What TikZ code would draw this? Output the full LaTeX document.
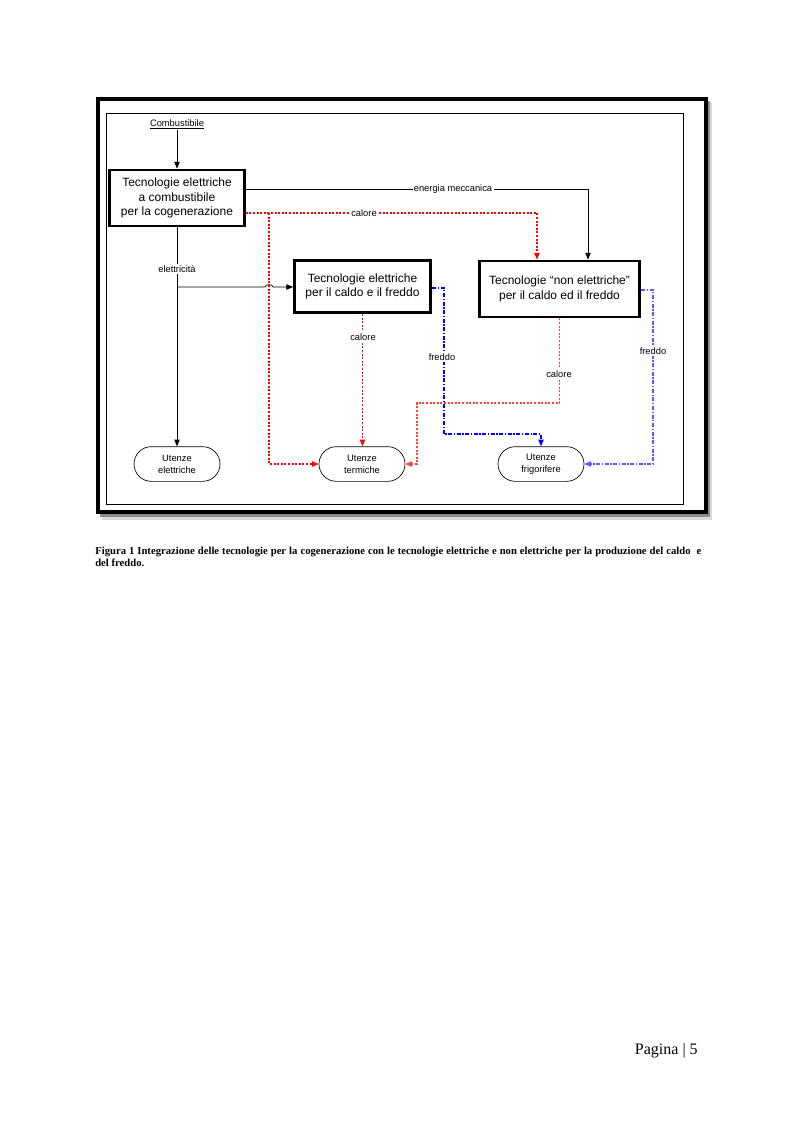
\documentclass[tikz,border=0pt]{standalone}
\usepackage{fontspec}
\setmainfont{Liberation Serif}
\newfontfamily\arialfont{Liberation Sans}
\usetikzlibrary{arrows.meta}

\begin{document}
\begin{tikzpicture}[x=0.75pt,y=-0.75pt,
  techbox/.style={draw,line width=2.2pt,align=center,minimum height=42pt,inner sep=2pt,
    font=\arialfont\fontsize{9}{11}\selectfont},
  userbox/.style={draw,line width=0.5pt,rounded corners=13pt,minimum width=64.5pt,minimum height=26pt,
    align=center,inner sep=1pt,font=\arialfont\fontsize{7}{9}\selectfont},
  flowlabel/.style={fill=white,inner sep=1pt,font=\arialfont\fontsize{7}{8}\selectfont},
  power/.style={-{Triangle[length=5pt,width=4pt]},line width=0.5pt},
  heat/.style={power,color=red,line width=0.8pt,dash pattern=on 1.5pt off 1.2pt},
  cold/.style={power,color=blue,line width=0.8pt,dash pattern=on 3pt off 1.2pt on 1pt off 1.2pt}]
\useasboundingbox[fill=white] (0,0) rectangle (794,1123);

\fill[black!15] (102,103) rectangle (712,520);
\fill[black!45] (100,101) rectangle (710,517);
\draw[line width=3pt,fill=white] (98,99) rectangle (706,512);
\draw[line width=0.6pt] (106,113) rectangle (683,504);

\node[flowlabel] (comb) at (177,124) {\underline{Combustibile}};
\node[techbox,minimum width=101pt] (cog) at (177,198) {Tecnologie elettriche\\a combustibile\\per la cogenerazione};
\node[techbox,minimum width=102pt,minimum height=39pt] (elt) at (362.5,286.5) {Tecnologie elettriche\\per il caldo e il freddo};
\node[techbox,minimum width=120pt] (nel) at (559.5,289) {Tecnologie “non elettriche”\\per il caldo ed il freddo};

\node[userbox] (uel) at (177,464) {Utenze\\elettriche};
\node[userbox] (uter) at (362,464) {Utenze\\termiche};
\node[userbox] (ufri) at (541,464) {Utenze\\frigorifere};

\coordinate (mech) at (588,189);
\coordinate (heatA) at (537,213);
\coordinate (heatB) at (269,213);
\coordinate (elec) at (177,287);
\coordinate (hopL) at (265,287);
\coordinate (hopR) at (273,287);
\coordinate (coldA) at (444,288);
\coordinate (coldB) at (444,434);
\coordinate (heatC) at (559.5,403);
\coordinate (heatD) at (417,403);
\coordinate (coldC) at (653,290);

\draw[power] (comb) -- (cog);
\draw[power] (cog.east |- mech) -- (mech) -- (mech |- nel.north);
\draw[heat] (cog.east |- heatA) -- (heatA) -- (heatA |- nel.north);
\draw[heat] (heatB) |- (uter.west);
\draw[power] (cog) -- (uel);
\draw[power] (elec) -- (hopL) to[out=90,in=90] (hopR) -- (elec -| elt.west);
\draw[heat] (elt.south) -- (elt.south |- uter.north);
\draw[cold] (elt.east |- coldA) -- (coldA) -- (coldB) -| (ufri.north);
\draw[heat,color=red!75] (nel.south) -- (heatC) -- (heatD) |- (uter.east);
\draw[cold,color=blue!65] (nel.east |- coldC) -- (coldC) |- (ufri.east);

\node[flowlabel] (lmech) at (453,189) {energia meccanica};
\node[flowlabel] (lheat1) at (364,213) {calore};
\node[flowlabel] (lelec) at (177,269) {elettricità};
\node[flowlabel] (lheat2) at (363,337) {calore};
\node[flowlabel] (lcold1) at (442,357) {freddo};
\node[flowlabel] (lheat3) at (559,374) {calore};
\node[flowlabel] (lcold2) at (653,351) {freddo};

\node[anchor=base west,inner sep=0pt,font=\bfseries\fontsize{8}{10}\selectfont] (capA) at (95,554)
  {\makebox[454.5pt][s]{Figura 1 Integrazione delle tecnologie per la cogenerazione con le tecnologie elettriche e non elettriche per la produzione del caldo \ e}};
\node[anchor=base west,inner sep=0pt,font=\bfseries\fontsize{8}{10}\selectfont] (capB) at (95,566) {del freddo.};
\node[anchor=base east,inner sep=0pt,font=\fontsize{12}{14}\selectfont] (page) at (698,1054) {Pagina | 5};
\end{tikzpicture}
\end{document}
